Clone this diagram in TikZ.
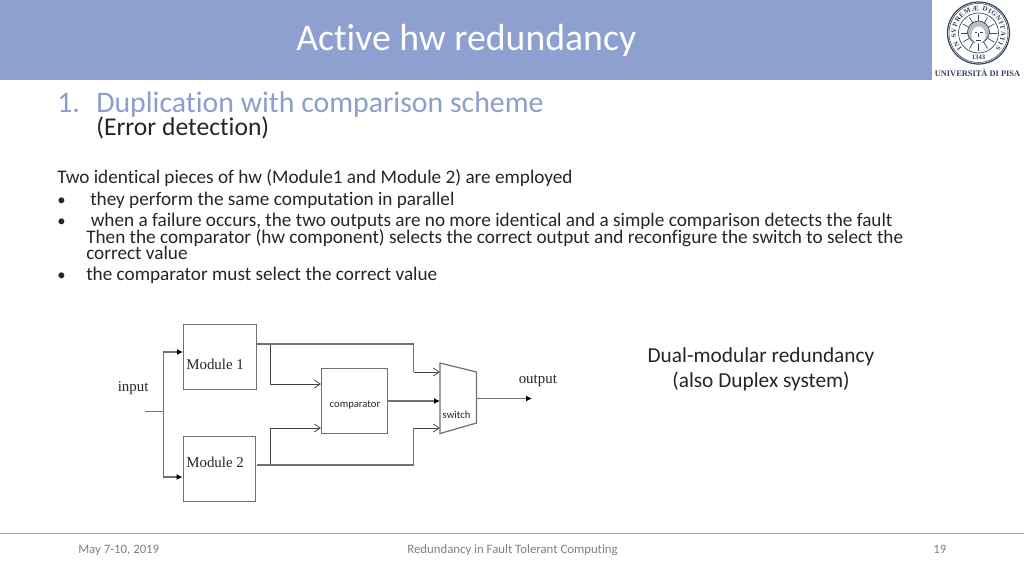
\documentclass[tikz,border=0pt]{standalone}
\usepackage{fontspec}
\setmainfont[Ligatures=NoCommon]{Carlito}
\newfontfamily\serifx{Liberation Serif}
\usetikzlibrary{arrows.meta,decorations.text}
\definecolor{hdr}{HTML}{8EA0CF}
\definecolor{headtxt}{HTML}{8C9ECE}
\definecolor{bodytxt}{HTML}{262626}
\definecolor{wire}{HTML}{707070}
\definecolor{seal}{HTML}{34435F}
\newcommand{\sealfmt}{\serifx\bfseries\fontsize{5.2}{5.2}\selectfont\color{seal}}
\tikzset{
  px/.style={x=0.75pt,y=-0.75pt},
  title/.style={anchor=base west,inner sep=0,text=white,font=\fontsize{28.3}{28.3}\selectfont},
  head/.style={anchor=base west,inner sep=0,text=headtxt,font=\fontsize{22.35}{22.35}\selectfont},
  sub/.style={anchor=base west,inner sep=0,text=bodytxt,font=\fontsize{19.2}{19.2}\selectfont},
  body/.style={anchor=base west,inner sep=0,text=bodytxt,font=\fontsize{14.4}{14.4}\selectfont},
  bul/.style={anchor=base west,inner sep=0,text=bodytxt,font=\fontsize{12.5}{12.5}\selectfont},
  side/.style={anchor=base,inner sep=0,text=bodytxt,font=\fontsize{16}{16}\selectfont},
  foot/.style={anchor=base west,inner sep=0,text=black!50,font=\fontsize{9.6}{9.6}\selectfont},
  modbox/.style={draw=wire,line width=0.75pt,anchor=north west,inner sep=0,minimum width=54.5pt,minimum height=49pt},
  tm/.style={anchor=base west,inner sep=0,text=black!85,font=\serifx\fontsize{11.2}{11.2}\selectfont},
  small/.style={anchor=center,inner sep=0,text=black!85,font=\fontsize{8}{8}\selectfont},
  wirel/.style={draw=wire,line width=0.9pt},
  thinw/.style={draw=black!75,line width=0.6pt},
  fillarrow/.style={-{Latex[length=4.5pt,width=4.5pt,black]}},
  openarrow/.style={-{Straight Barb[length=4.5pt,width=6pt,black!70]}},
}
\begin{document}
\begin{tikzpicture}[px]
\useasboundingbox (0,0) rectangle (1024,576);
\fill[white] (0,0) rectangle (1024,576);
\fill[hdr] (0,0) rectangle (932,80);
\node[title] (t) at (296,50) {Active hw redundancy};

% logo
\draw[seal,line width=0.9pt] (978.5,33) circle[radius=31*0.75pt];
\draw[seal,line width=0.4pt] (978.5,33) circle[radius=29.5*0.75pt];
\draw[seal,line width=0.5pt] (978.5,33) circle[radius=20*0.75pt];
\path[postaction={decorate,decoration={text along path,text align={fit to path},
   text={|\sealfmt|IN SVPREMÆ DIGNITATIS}}}]
   (978.5,33) ++(222:22.5*0.75pt) arc[start angle=222,end angle=-42,radius=22.5*0.75pt];
\node[seal,inner sep=0,font=\serifx\bfseries\fontsize{5}{5}\selectfont] (yr) at (978.5,57.5) {1343};
\foreach \a in {0,30,...,330}{\draw[seal,line width=0.5pt] (978.5,33) ++(\a:9*0.75pt) -- ++(\a:9*0.75pt);}
\draw[seal,line width=0.5pt,fill=seal!35] (978.5,32) circle[radius=11*0.75pt];
\fill[white] (978.5,35) ellipse[x radius=7*0.75pt,y radius=8.5*0.75pt];
\draw[seal,line width=0.4pt] (974.5,32.5)--(977,32.5) (980,32.5)--(982.5,32.5) (978.5,33)--(978.5,37) (976,40)--(981,40);
\node[seal,inner sep=0,anchor=base,font=\serifx\bfseries\fontsize{6.3}{6.3}\selectfont] (uni) at (977.5,76) {UNIVERSITÀ DI PISA};

% headings
\node[head] (h1) at (57,112.5) {1.};
\node[head] (h2) at (96,112.5) {Duplication with comparison scheme};
\node[sub] (h3) at (96,135) {(Error detection)};

\node[body] (b1) at (57,183.5) {Two identical pieces of hw (Module1 and Module 2) are employed};
\node[bul] (d1) at (57,205) {•};
\node[body] (b2) at (90,205) {they perform the same computation in parallel};
\node[bul] (d2) at (57,226.5) {•};
\node[body] (b3) at (90.5,226.5) {when a failure occurs, the two outputs are no more identical and a simple comparison detects the fault};
\node[body] (b4) at (86,243) {Then the comparator (hw component) selects the correct output and reconfigure the switch to select the};
\node[body] (b5) at (86,259) {correct value};
\node[bul] (d3) at (57,280) {•};
\node[body] (b6) at (86,280) {the comparator must select the correct value};

\node[side] (s1) at (761,362.5) {Dual-modular redundancy};
\node[side] (s2) at (761,387.5) {(also Duplex system)};

% diagram
\node[modbox] (m1) at (183,324) {};
\node[modbox,minimum height=49pt] (m2) at (182.5,436) {};
\node[modbox,minimum width=49.5pt] (cmp) at (321,368) {};
\node[tm] (m1t) at (186,369) {Module 1};
\node[tm] (m2t) at (186,467) {Module 2};
\node[small] (cmpt) at (355,405) {comparator};
\node[tm] (int) at (117.5,391) {input};
\node[tm] (outt) at (518.5,383) {output};
\node[small] (swt) at (456.5,415) {switch};

\coordinate (sw1) at (440,363);
\coordinate (sw2) at (476.5,372);
\coordinate (sw3) at (476.5,423);
\coordinate (sw4) at (440,433.5);
\draw[wirel,line join=miter] (sw1)--(sw2)--(sw3)--(sw4)--cycle;

\coordinate (in) at (145,411.5);
\coordinate (bus) at (163.5,411.5);
\coordinate (outend) at (532,398.5);
\coordinate (j1) at (270.5,344);
\coordinate (j2) at (270.5,465);
\draw[wirel] (in)--(bus);
\draw[wirel,fillarrow] (bus)--(163.5,352)--(183,352);
\draw[wirel,fillarrow] (bus)--(163.5,477)--(182.5,477);
\draw[thinw,openarrow] (j1)--(270.5,384)--(321,384);
\draw[thinw,openarrow] (j2)--(270.5,428)--(321,428);
\draw[thinw,openarrow] (413.5,372)--(440,372);
\draw[thinw,openarrow] (413.5,428)--(440,428);
\draw[wirel] (257,344)--(j1)--(413.5,344)--(413.5,372);
\draw[wirel] (257,465)--(j2)--(413.5,465)--(413.5,428);
\draw[wirel,fillarrow] (cmp.east |- 0,401)--(440,401);
\draw[wirel,fillarrow] (476.5,398.5)--(outend);

% footer
\draw[black!35,line width=0.75pt] (0,533)--(1024,533);
\node[foot] (f1) at (78,553) {May 7-10, 2019};
\node[foot] (f2) at (407,553) {Redundancy in Fault Tolerant Computing};
\node[foot] (f3) at (933,553) {19};
\end{tikzpicture}
\end{document}
